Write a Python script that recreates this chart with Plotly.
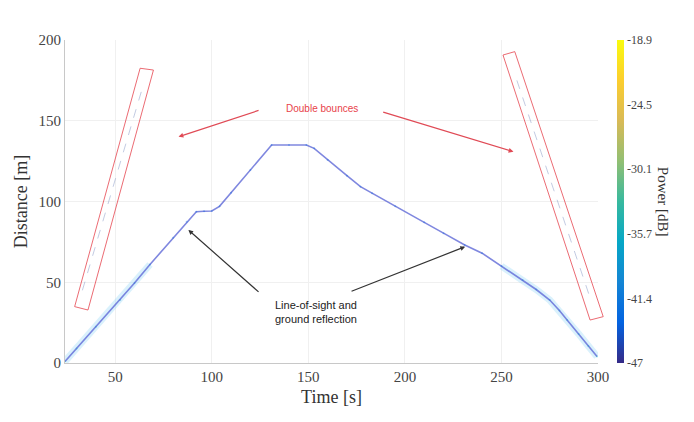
import plotly.graph_objects as go

# ---- data ----
time_s = [24, 30, 40, 52.6, 60, 68, 80, 87, 92, 96, 100, 104, 110, 120, 131, 140, 149,
          153, 160, 170, 177, 183, 195, 210, 220, 231, 240, 250, 261, 268, 275, 280,
          284, 290, 295, 299.5]
distance_m = [1, 9, 22.5, 39, 49.5, 61, 77.5, 87.5, 93.7, 94, 94.1, 97, 105.4, 119.5, 135,
              135, 135, 132.9, 125.7, 116, 109.2, 105.1, 97.1, 87.1, 80.4, 73.1, 68, 60,
              51.4, 45.5, 39, 32.5, 26.6, 18, 10.5, 4]
power_db = [-36, -37, -38, -39.5, -40.5, -41, -42, -42.5, -43, -43, -43, -43, -43, -43, -43,
            -43, -43, -43, -43, -43, -43, -43, -43, -43, -43, -43, -42.5, -42, -41, -40.5,
            -40, -39, -38.5, -37.5, -37, -36]

# faint double-bounce traces (inside the red boxes)
db_left_t = [33, 64]
db_left_d = [45, 170]
db_right_t = [258, 296]
db_right_d = [175, 40]

# red boxes (corner points, data units)
box_left_t = [62.9, 69.8, 35.9, 29.0]
box_left_d = [182.5, 181.4, 32.8, 34.9]
box_right_t = [250.8, 256.9, 302.7, 295.9]
box_right_d = [190.7, 192.8, 28.7, 26.6]

cbar_tickvals = [-47, -41.38, -35.76, -30.14, -24.52, -18.9]
cbar_ticktext = ["-47", "-41.4", "-35.7", "-30.1", "-24.5", "-18.9"]

x_range = [24, 300]
y_range = [0, 200]

parula = [
    [0.0, "#352a87"], [0.125, "#0363e1"], [0.25, "#1485d4"], [0.375, "#06a7c6"],
    [0.5, "#38b99e"], [0.625, "#92bf73"], [0.75, "#d9ba56"], [0.875, "#fcce2e"],
    [1.0, "#f9fb0e"],
]

serif = "Liberation Serif, Times New Roman, serif"
sans = "Liberation Sans, Arial, sans-serif"

fig = go.Figure()

# halo near the low-distance parts
fig.add_trace(go.Scatter(x=time_s[:6], y=distance_m[:6], mode="lines",
                         line=dict(color="rgba(150,215,245,0.35)", width=7),
                         hoverinfo="skip", showlegend=False))
fig.add_trace(go.Scatter(x=time_s[-9:], y=distance_m[-9:], mode="lines",
                         line=dict(color="rgba(150,215,245,0.35)", width=7),
                         hoverinfo="skip", showlegend=False))

# double-bounce faint dashes
fig.add_trace(go.Scatter(x=db_left_t, y=db_left_d, mode="lines",
                         line=dict(color="rgba(120,140,190,0.45)", width=1, dash="dash"),
                         hoverinfo="skip", showlegend=False))
fig.add_trace(go.Scatter(x=db_right_t, y=db_right_d, mode="lines",
                         line=dict(color="rgba(120,140,190,0.45)", width=1, dash="dash"),
                         hoverinfo="skip", showlegend=False))

# main LOS line
fig.add_trace(go.Scatter(x=time_s, y=distance_m, mode="lines",
                         line=dict(color="rgba(95,105,215,0.8)", width=1.6),
                         hoverinfo="skip", showlegend=False))
fig.add_trace(go.Scatter(
    x=time_s, y=distance_m, mode="markers",
    marker=dict(size=2, color=power_db, colorscale=parula, cmin=-47, cmax=-18.9,
                opacity=0.35,
                colorbar=dict(
                    x=1.0356, xanchor="left", xpad=0, y=0.5, yanchor="middle",
                    len=1.0, lenmode="fraction", thickness=7, ypad=0,
                    outlinewidth=0, tickmode="array", tickvals=cbar_tickvals,
                    ticktext=cbar_ticktext, ticks="",
                    tickfont=dict(family=serif, size=12, color="#444"))),
    showlegend=False, hoverinfo="skip"))

# red boxes, converted to paper coordinates via the axis ranges (so they are not clipped)
def to_paper(ts, ds):
    px = [(t - x_range[0]) / (x_range[1] - x_range[0]) for t in ts]
    py = [(d - y_range[0]) / (y_range[1] - y_range[0]) for d in ds]
    return px, py

for bt, bd in [(box_left_t, box_left_d), (box_right_t, box_right_d)]:
    px, py = to_paper(bt, bd)
    path = "M " + " L ".join(f"{a},{b}" for a, b in zip(px, py)) + " Z"
    fig.add_shape(type="path", path=path, xref="paper", yref="paper",
                  line=dict(color="rgba(230,70,80,0.8)", width=1))

# annotations
fig.add_annotation(x=157, y=157.7, text="Double bounces", showarrow=False,
                   font=dict(family=sans, size=10, color="#e8424a"))
for (hx, hy, tx, ty) in [(82.8, 140.1, 125, 156.7), (256.2, 130.8, 188, 155.6)]:
    fig.add_annotation(x=hx, y=hy, ax=tx, ay=ty, axref="x", ayref="y", text="",
                       showarrow=True, arrowhead=2, arrowsize=0.8, arrowwidth=1.2,
                       arrowcolor="#e04a55")
fig.add_annotation(x=154, y=31.6, text="Line-of-sight and<br>ground reflection",
                   showarrow=False, font=dict(family=sans, size=11, color="#222"))
for (hx, hy, tx, ty) in [(87.9, 82.4, 125, 43.2), (231.2, 72, 171.6, 44.1)]:
    fig.add_annotation(x=hx, y=hy, ax=tx, ay=ty, axref="x", ayref="y", text="",
                       showarrow=True, arrowhead=2, arrowsize=0.8, arrowwidth=1.2,
                       arrowcolor="#333")

fig.add_annotation(x=1.142, y=0.5, xref="paper", yref="paper", text="Power [dB]",
                   textangle=90, showarrow=False,
                   font=dict(family=serif, size=15, color="#333"))

fig.update_layout(
    width=694, height=422,
    margin=dict(l=65, r=96, t=40, b=59),
    paper_bgcolor="white", plot_bgcolor="white",
    xaxis=dict(range=x_range, tickvals=[50, 100, 150, 200, 250, 300],
               showgrid=True, gridcolor="#f0f0f0", zeroline=False,
               showline=True, linecolor="#c8c8c8", linewidth=1,
               ticks="", tickfont=dict(family=serif, size=15, color="#444"),
               title=dict(text="Time [s]", font=dict(family=serif, size=18, color="#333"),
                          standoff=6)),
    yaxis=dict(range=y_range, tickvals=[0, 50, 100, 150, 200],
               showgrid=True, gridcolor="#f0f0f0", zeroline=False,
               showline=True, linecolor="#c8c8c8", linewidth=1,
               ticks="", tickfont=dict(family=serif, size=15, color="#444"),
               title=dict(text="Distance [m]", font=dict(family=serif, size=18, color="#333"),
                          standoff=6)),
)

fig.write_html("out.html")
